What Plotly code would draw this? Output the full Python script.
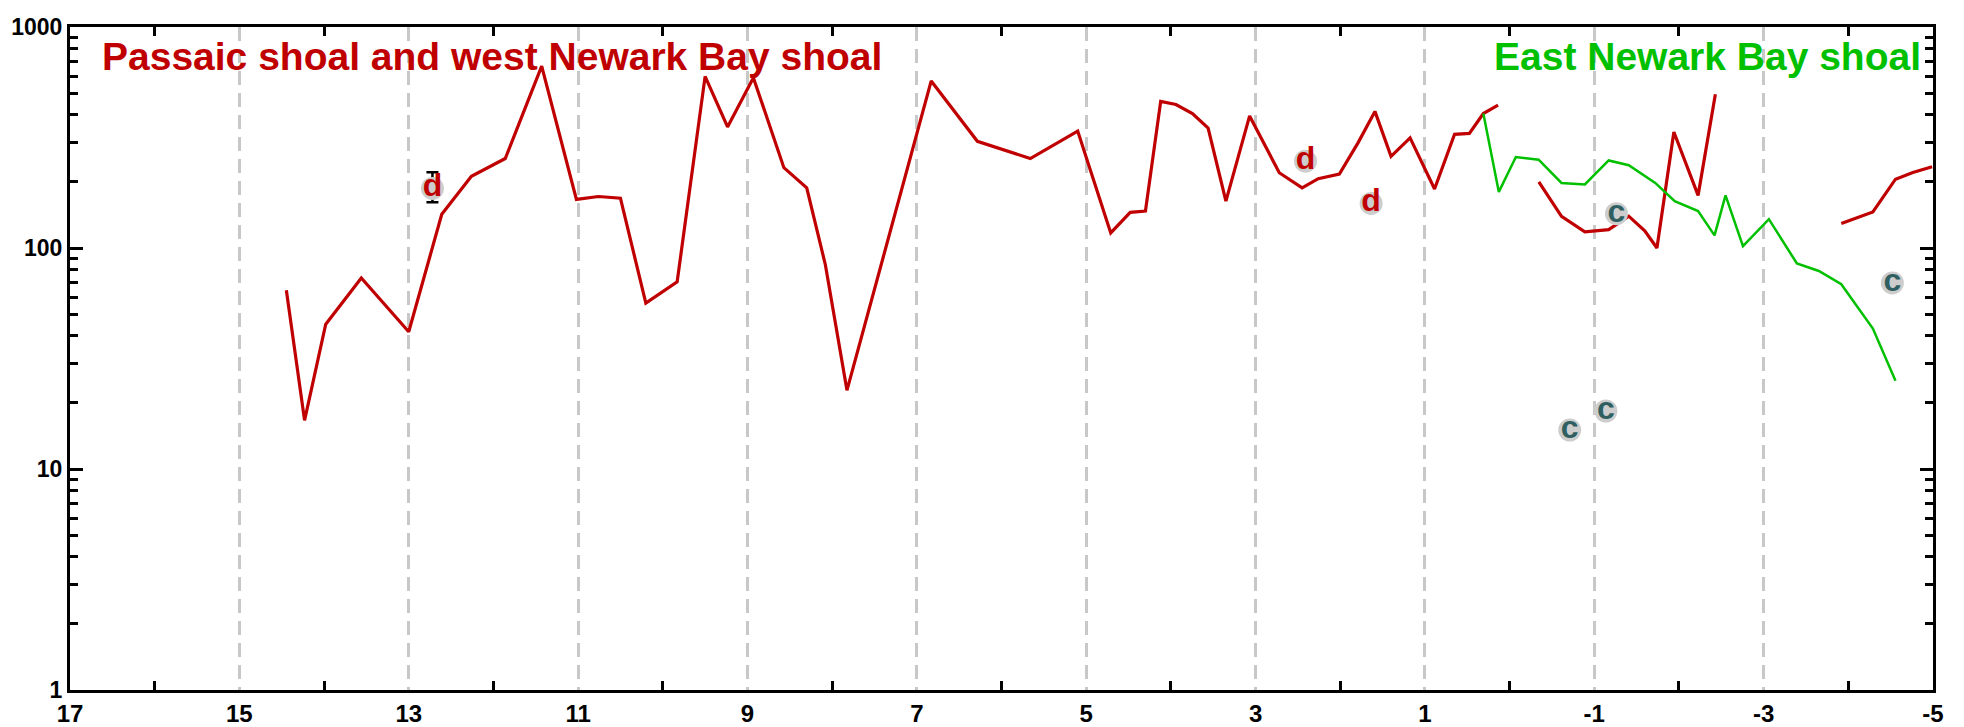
import plotly.graph_objects as go

# ---- data ----
red_a_x = [14.445, 14.23, 13.98, 13.56, 13.0, 12.61, 12.26, 11.86, 11.43, 11.02, 10.76, 10.50,
           10.20, 9.83, 9.50, 9.235, 8.93, 8.57, 8.30, 8.08, 7.825, 6.83, 6.285, 5.66, 5.10,
           4.71, 4.48, 4.30, 4.12, 3.94, 3.745, 3.56, 3.35, 3.07, 2.72, 2.45, 2.26, 2.01,
           1.79, 1.59, 1.40, 1.175, 0.886, 0.65, 0.475, 0.31, 0.136]
red_a_y = [64.4, 16.6, 45.2, 73.2, 41.8, 142, 211, 254, 665, 166, 171, 168,
           56.3, 70.3, 598, 353, 590, 231, 187, 84, 22.7, 570, 304, 254, 338,
           117, 145, 147, 461, 446, 406, 349, 163, 396, 219, 187, 206, 216,
           299, 415, 260, 315, 185, 327, 330, 406, 443]

red_b_x = [-0.345, -0.613, -0.889, -1.17, -1.407, -1.596, -1.74, -1.94, -2.226, -2.43]
red_b_y = [199, 139, 118.3, 121, 139.3, 119.5, 100, 335, 173, 496]

red_c_x = [-3.917, -4.29, -4.557, -4.762, -4.99]
red_c_y = [129, 145.7, 204.8, 219.5, 233]

green_x = [0.31, 0.127, -0.074, -0.343, -0.613, -0.889, -1.17, -1.407, -1.72, -1.95,
           -2.226, -2.42, -2.55, -2.756, -3.062, -3.393, -3.652, -3.917, -4.29, -4.557]
green_y = [406, 179.4, 258, 251, 197, 194, 249, 237, 197, 163,
           147, 114, 173, 102, 135, 85.1, 78.7, 68.6, 43.2, 25.1]

d_x = [12.72, 2.41, 1.635]
d_y = [186, 247, 159]
d_err_plus = [34, 0, 0]
d_err_minus = [25, 0, 0]
d_labels = ["d", "d", "d"]

c_x = [-1.262, -0.71, -1.137, -4.52]
c_y = [143, 15.0, 18.3, 69.5]
c_labels = ["c", "c", "c", "c"]

x_major = [17, 15, 13, 11, 9, 7, 5, 3, 1, -1, -3, -5]
x_minor = [16, 14, 12, 10, 8, 6, 4, 2, 0, -2, -4]
y_major = [1, 10, 100, 1000]
y_minor = [m * d for d in (1, 10, 100) for m in range(2, 10)]

title_left = "Passaic shoal and west Newark Bay shoal"
title_right = "East Newark Bay shoal"

RED = "#c00000"
GREEN = "#00c000"
FONT = "Liberation Sans, Arial, Helvetica, sans-serif"

fig = go.Figure()

for xs, ys in ((red_a_x, red_a_y), (red_b_x, red_b_y), (red_c_x, red_c_y)):
    fig.add_trace(go.Scatter(x=xs, y=ys, mode="lines",
                             line=dict(color=RED, width=3.2), showlegend=False,
                             hoverinfo="skip"))

fig.add_trace(go.Scatter(x=green_x, y=green_y, mode="lines",
                         line=dict(color=GREEN, width=2.5), showlegend=False,
                         hoverinfo="skip"))

fig.add_trace(go.Scatter(
    x=d_x, y=d_y, mode="markers+text", text=d_labels, textposition="middle center",
    marker=dict(size=23, color="#cdcdcd", line=dict(width=0)),
    textfont=dict(family=FONT, size=32, color=RED, weight="bold"),
    error_y=dict(type="data", symmetric=False, array=d_err_plus, arrayminus=d_err_minus,
                 color="black", thickness=2.5, width=6),
    showlegend=False))

fig.add_trace(go.Scatter(
    x=c_x, y=c_y, mode="markers+text", text=c_labels, textposition="middle center",
    marker=dict(size=23, color="#cdcdcd", line=dict(width=0)),
    textfont=dict(family=FONT, size=32, color="#2f5f60", weight="bold"),
    showlegend=False))

fig.add_annotation(text=title_left, xref="paper", yref="paper", x=0.016, y=0.955,
                   xanchor="left", yanchor="middle", showarrow=False,
                   font=dict(family=FONT, size=39, color=RED, weight="bold"))
fig.add_annotation(text=title_right, xref="paper", yref="paper", x=0.9946, y=0.955,
                   xanchor="right", yanchor="middle", showarrow=False,
                   font=dict(family=FONT, size=39, color=GREEN, weight="bold"))

fig.update_xaxes(
    range=[17, -5], tickmode="array", tickvals=x_major,
    ticktext=[str(v) for v in x_major], ticks="", automargin=False,
    showgrid=True, gridcolor="#c8c8c8", gridwidth=2.5, griddash="14px,8px",
    showline=True, linecolor="black", linewidth=3, mirror="ticks",
    tickfont=dict(family=FONT, size=24, color="black", weight="bold"),
    zeroline=False,
    minor=dict(tickmode="array", tickvals=x_minor, ticks="inside", ticklen=9,
               tickwidth=2.5, tickcolor="black", showgrid=False),
)
fig.update_yaxes(
    type="log", range=[0, 3], tickmode="array", tickvals=y_major,
    ticktext=[str(v) for v in y_major], ticks="inside", ticklen=13, tickwidth=2.5,
    tickcolor="black", showgrid=False, automargin=False,
    showline=True, linecolor="black", linewidth=3, mirror="ticks",
    tickfont=dict(family=FONT, size=23, color="black", weight="bold"),
    zeroline=False,
    minor=dict(tickmode="array", tickvals=y_minor, ticks="inside", ticklen=8,
               tickwidth=2.5, tickcolor="black", showgrid=False),
)

# the page body adds an 8px offset, so the figure is 8px smaller than the window
fig.update_layout(
    width=1956, height=719,
    margin=dict(l=62, r=31, t=19, b=37),
    paper_bgcolor="white", plot_bgcolor="white",
    showlegend=False,
)

fig.write_html("out.html")
